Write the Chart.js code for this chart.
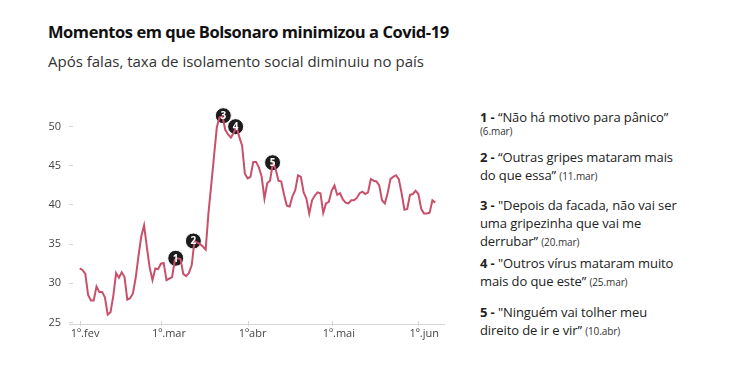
<!DOCTYPE html>
<html lang="pt-BR">
<head>
<meta charset="utf-8">
<script src="https://cdn.jsdelivr.net/npm/chart.js@4.4.1/dist/chart.umd.min.js"></script>
<style>
  body { margin: 0; width: 747px; height: 391px; background: #fff; overflow: hidden; position: relative;
         font-family: 'Open Sans', 'Noto Sans', sans-serif; color: #222; }
  #chart { position: absolute; left: 0; top: 0; }
  .title { position: absolute; left: 48px; top: 22px; font-size: 16.5px; letter-spacing: -0.45px; font-weight: 700; line-height: 20px; color: #111; white-space: nowrap; }
  .subtitle { position: absolute; left: 48px; top: 51px; font-size: 15px; line-height: 20px; color: #333; white-space: nowrap; }
  .note { position: absolute; left: 480px; font-size: 13px; letter-spacing: -0.1px; line-height: 18px; color: #222; white-space: nowrap; }
  .note b { font-weight: 700; }
  .note small { font-size: 10px; color: #333; }
</style>
</head>
<body>
<div class="title">Momentos em que Bolsonaro minimizou a Covid-19</div>
<div class="subtitle">Após falas, taxa de isolamento social diminuiu no país</div>

<div class="note" style="top:108px"><b>1 -</b> “Não há motivo para pânico”</div>
<div class="note" style="top:121px"><small>(6.mar)</small></div>
<div class="note" style="top:148px"><b>2 -</b> “Outras gripes mataram mais<br>do que essa” <small>(11.mar)</small></div>
<div class="note" style="top:196px"><b>3 -</b> "Depois da facada, não vai ser<br>uma gripezinha que vai me<br>derrubar” <small>(20.mar)</small></div>
<div class="note" style="top:254px"><b>4 -</b> "Outros vírus mataram muito<br>mais do que este” <small>(25.mar)</small></div>
<div class="note" style="top:303px"><b>5 -</b> "Ninguém vai tolher meu<br>direito de ir e vir” <small>(10.abr)</small></div>

<canvas id="chart" width="460" height="391"></canvas>
<script>
// taxa de isolamento social (%), um valor por dia a partir de 1º de fevereiro
const isolamento = [
    31.9, 31.7, 31.2, 28.5, 27.8, 27.8, 29.6, 28.9, 28.9, 28.2,
    26.0, 26.3, 28.4, 31.3, 30.7, 31.4, 30.8, 27.9, 28.1, 28.7,
    30.7, 33.5, 36.0, 37.4, 34.6, 32.0, 30.4, 31.9, 31.8, 32.5,
    32.6, 30.4, 30.6, 30.8, 33.0, 33.2, 33.1, 31.2, 30.9, 31.3,
    32.3, 35.4, 35.2, 35.0, 34.7, 34.3, 39.0, 42.6, 46.3, 50.0,
    51.2, 51.3, 49.6, 49.0, 48.6, 49.2, 50.0, 48.7, 47.6, 44.0,
    43.4, 43.6, 45.5, 45.5, 44.8, 43.6, 40.8, 42.8, 43.1, 45.4,
    44.6, 43.1, 43.0, 41.3, 39.9, 39.8, 41.1, 41.9, 43.8, 43.6,
    41.6, 40.8, 38.9, 40.6, 41.2, 41.6, 41.5, 39.0, 40.2, 40.4,
    41.8, 42.5, 41.3, 41.5, 40.7, 40.3, 40.2, 40.6, 40.6, 40.9,
    41.5, 41.7, 41.4, 41.6, 43.3, 43.1, 43.0, 42.5, 40.6, 40.2,
    41.5, 43.3, 43.6, 43.8, 43.3, 41.5, 39.4, 39.5, 41.3, 41.4,
    41.8, 41.4, 39.5, 38.9, 38.9, 39.0, 40.6, 40.3
];

// marcas das falas (dia contado desde 1º.fev, valor no eixo)
const falaNumeros = ['1', '2', '3', '4', '5'];
const falaDias = [34.3, 40.6, 51.3, 55.7, 68.9];
const falaValores = [33.2, 35.4, 51.4, 50.0, 45.4];

const mesDias = [0, 29, 60, 90, 121];
const mesRotulos = ['1º.fev', '1º.mar', '1ºabr', '1º.mai', '1º.jun'];
const yTicks = [25, 30, 35, 40, 45, 50];

const axisLine = {
    id: 'axisLine',
    beforeDatasetsDraw(chart) {
        const { ctx, chartArea, scales } = chart;
        ctx.save();
        ctx.strokeStyle = '#d6d6d6';
        ctx.lineWidth = 1;
        ctx.beginPath();
        ctx.moveTo(chartArea.left - 4, chartArea.bottom + 0.5);
        ctx.lineTo(chartArea.right, chartArea.bottom + 0.5);
        mesDias.forEach(d => {
            const x = Math.round(scales.x.getPixelForValue(d)) + 0.5;
            ctx.moveTo(x, chartArea.bottom - 3);
            ctx.lineTo(x, chartArea.bottom + 2);
        });
        ctx.stroke();
        ctx.restore();
    }
};

const falaLabels = {
    id: 'falaLabels',
    afterDatasetsDraw(chart) {
        const meta = chart.getDatasetMeta(1);
        const ctx = chart.ctx;
        ctx.save();
        ctx.fillStyle = '#fff';
        ctx.font = "bold 10px 'Open Sans'";
        ctx.textAlign = 'center';
        ctx.textBaseline = 'middle';
        meta.data.forEach((pt, i) => {
            ctx.fillText(falaNumeros[i], pt.x, pt.y + 0.5);
        });
        ctx.restore();
    }
};

new Chart(document.getElementById('chart'), {
    type: 'line',
    data: {
        datasets: [{
            data: isolamento.map((v, i) => ({ x: i, y: v })),
            borderColor: '#c9506a',
            borderWidth: 2,
            pointRadius: 0,
            tension: 0
        }, {
            data: falaDias.map((d, i) => ({ x: d, y: falaValores[i] })),
            showLine: false,
            clip: false,
            pointRadius: 8,
            pointBackgroundColor: '#1c1c1c',
            pointBorderColor: '#ffffff',
            pointBorderWidth: 1
        }]
    },
    options: {
        responsive: false,
        animation: false,
        events: [],
        layout: { padding: { top: 111, right: 15, bottom: 40, left: 0 } },
        plugins: { legend: { display: false }, tooltip: { enabled: false } },
        scales: {
            x: {
                type: 'linear',
                min: -2.4,
                max: 130.5,
                afterFit: s => { s.height = 27; },
                afterBuildTicks: s => { s.ticks = mesDias.map(v => ({ value: v })); },
                grid: { display: false, drawTicks: false },
                border: { display: false },
                ticks: {
                    autoSkip: false,
                    maxRotation: 0,
                    align: 'start',
                    labelOffset: -9,
                    padding: 3,
                    color: '#444',
                    font: { family: 'Open Sans', size: 11 },
                    callback: (v, i) => mesRotulos[i]
                }
            },
            y: {
                min: 24.8,
                max: 52,
                afterFit: s => { s.width = 73; },
                afterBuildTicks: s => { s.ticks = yTicks.map(v => ({ value: v })); },
                grid: { display: true, drawOnChartArea: false, drawTicks: true, tickLength: 4, color: '#d6d6d6' },
                border: { display: false },
                ticks: {
                    padding: 8,
                    color: '#444',
                    font: { family: 'Open Sans', size: 11 }
                }
            }
        }
    },
    plugins: [axisLine, falaLabels]
});
</script>
</body>
</html>
